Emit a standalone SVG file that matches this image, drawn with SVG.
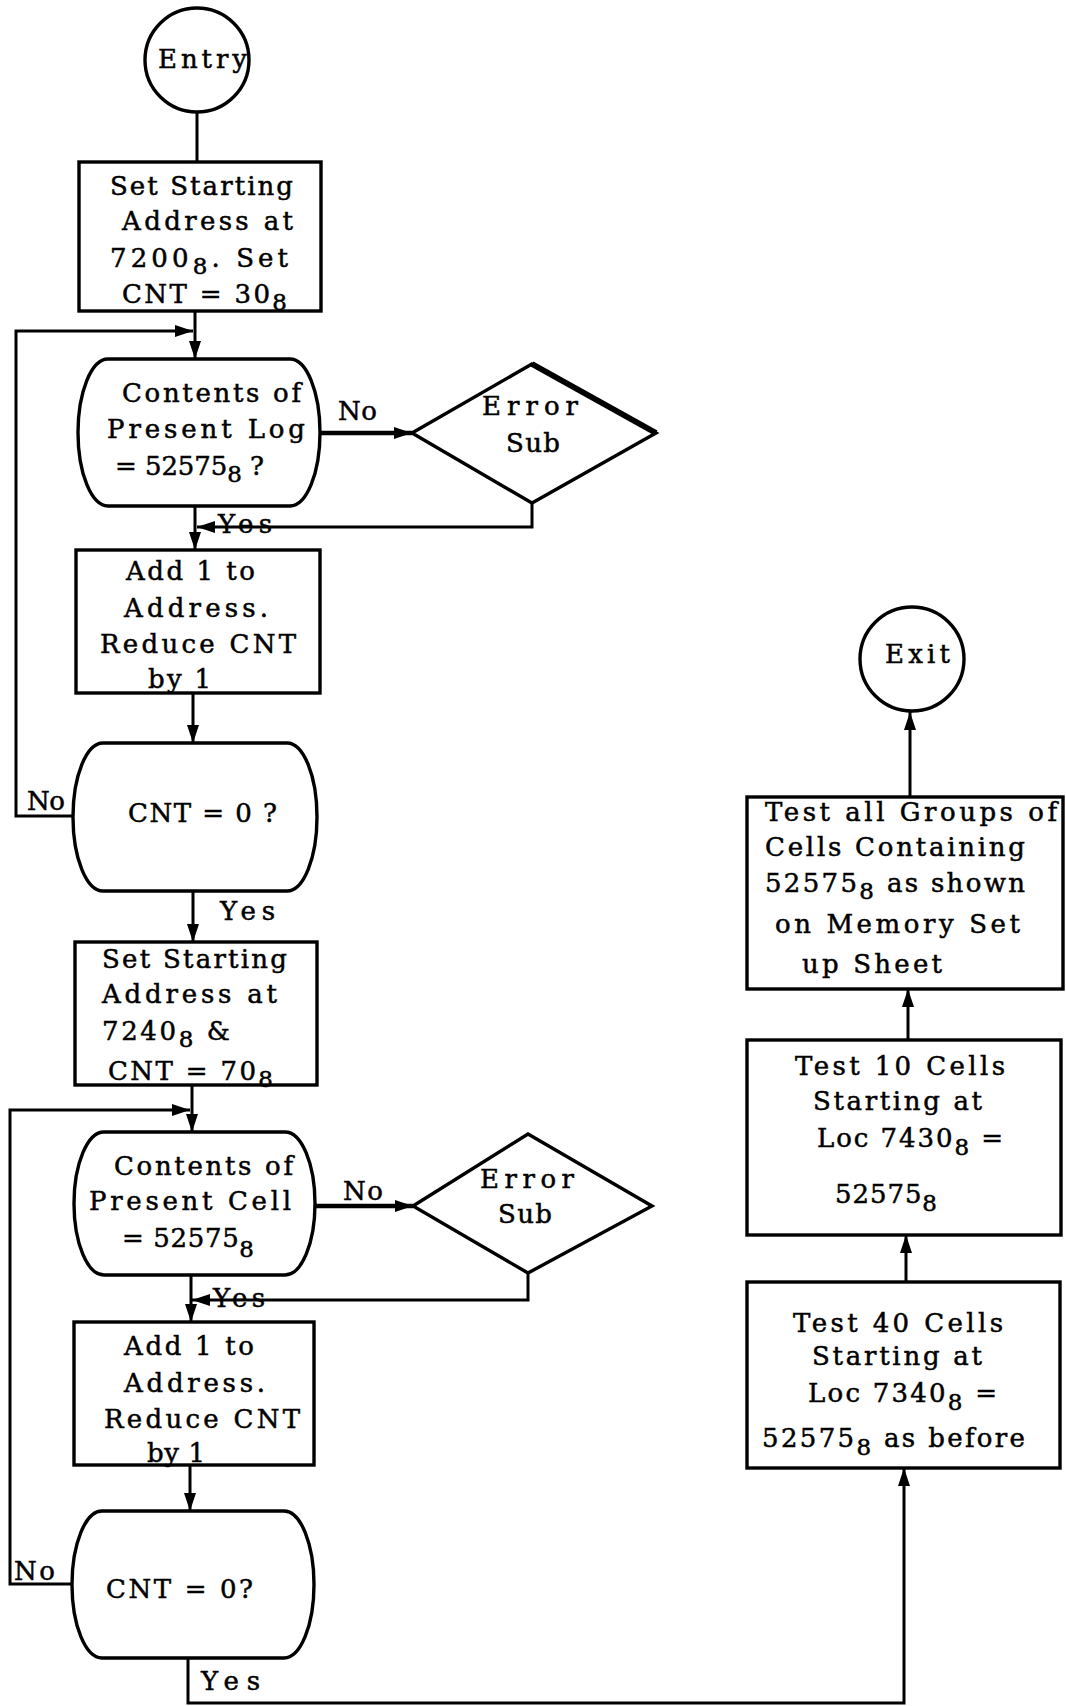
<svg xmlns="http://www.w3.org/2000/svg" width="1066" height="1706" viewBox="0 0 1066 1706">
<style>
.t{font-family:"DejaVu Serif","Liberation Serif",serif;font-size:26px;fill:#000;stroke:#000;stroke-width:0.5}
.sub{font-size:23px}
.shape{fill:none;stroke:#000;stroke-width:3.4}
.c{fill:none;stroke:#000;stroke-width:3}
.thick{stroke-width:4.5}
</style>
<defs>
<marker id="ah" markerUnits="userSpaceOnUse" markerWidth="19" markerHeight="12" refX="18" refY="6" orient="auto" viewBox="0 0 19 12">
<path d="M0,0 L18,6 L0,12 Z" fill="#000"/>
</marker>
</defs>
<rect width="1066" height="1706" fill="#fff"/>

<g id="connectors">
<line class="c" x1="197" y1="112" x2="197" y2="162"/>
<line class="c" x1="195" y1="311" x2="195" y2="359" marker-end="url(#ah)"/>
<polyline class="c" points="73,816 16,816 16,331 193,331" marker-end="url(#ah)"/>
<line class="c thick" x1="320" y1="433" x2="412" y2="433" marker-end="url(#ah)"/>
<polyline class="c" points="532,503 532,527 197,527" marker-end="url(#ah)"/>
<line class="c" x1="195" y1="506" x2="195" y2="550" marker-end="url(#ah)"/>
<line class="c" x1="193" y1="693" x2="193" y2="743" marker-end="url(#ah)"/>
<line class="c" x1="193" y1="891" x2="193" y2="942" marker-end="url(#ah)"/>
<line class="c" x1="192" y1="1085" x2="192" y2="1132" marker-end="url(#ah)"/>
<polyline class="c" points="72,1584 10,1584 10,1110 190,1110" marker-end="url(#ah)"/>
<line class="c thick" x1="315" y1="1206" x2="413" y2="1206" marker-end="url(#ah)"/>
<polyline class="c" points="528,1273 528,1300 192,1300" marker-end="url(#ah)"/>
<line class="c" x1="191" y1="1275" x2="191" y2="1322" marker-end="url(#ah)"/>
<line class="c" x1="190" y1="1465" x2="190" y2="1511" marker-end="url(#ah)"/>
<polyline class="c" points="188,1658 188,1703 904,1703 904,1468" marker-end="url(#ah)"/>
<line class="c" x1="906" y1="1282" x2="906" y2="1235" marker-end="url(#ah)"/>
<line class="c" x1="908" y1="1040" x2="908" y2="989" marker-end="url(#ah)"/>
<line class="c" x1="910" y1="797" x2="910" y2="712" marker-end="url(#ah)"/>
</g>

<g id="labels">
<text class="t" x="338" y="420" textLength="39">No</text>
<text class="t" x="218" y="533" textLength="54">Yes</text>
<text class="t" x="27" y="810" textLength="38">No</text>
<text class="t" x="220" y="920" textLength="55">Yes</text>
<text class="t" x="343" y="1200" textLength="40">No</text>
<text class="t" x="213" y="1307" textLength="52">Yes</text>
<text class="t" x="14" y="1580" textLength="41">No</text>
<text class="t" x="201" y="1690" textLength="59">Yes</text>
</g>

<g id="entry">
<circle class="shape" cx="197" cy="60" r="52"/>
<text class="t" x="158" y="68" textLength="89">Entry</text>
</g>

<g id="set-start-1">
<rect class="shape" x="79" y="162" width="242" height="149"/>
<text class="t" x="110" y="195" textLength="183">Set Starting</text>
<text class="t" x="122" y="230" textLength="171">Address at</text>
<text class="t" x="110" y="267" textLength="178">7200<tspan class="sub" dy="7">8</tspan><tspan dy="-7">.  Set</tspan></text>
<text class="t" x="122" y="303" textLength="165">CNT = 30<tspan class="sub" dy="7">8</tspan></text>
</g>

<g id="test-log">
<path class="shape" d="M108,359 H290 A30,73.5 0 0 1 290,506 H108 A30,73.5 0 0 1 108,359 Z"/>
<text class="t" x="122" y="402" textLength="179">Contents of</text>
<text class="t" x="107" y="438" textLength="198">Present Log</text>
<text class="t" x="115" y="475" textLength="149">= 52575<tspan class="sub" dy="7">8</tspan><tspan dy="-7"> ?</tspan></text>
</g>

<g id="error-sub-1">
<polygon class="shape" points="412,433 532,364 656,433 532,503"/>
<line x1="532" y1="364" x2="656" y2="433" stroke="#000" stroke-width="6"/>
<text class="t" x="482" y="415" textLength="96">Error</text>
<text class="t" x="506" y="452" textLength="54">Sub</text>
</g>

<g id="add-1">
<rect class="shape" x="76" y="550" width="244" height="143"/>
<text class="t" x="126" y="580" textLength="129">Add 1 to</text>
<text class="t" x="124" y="617" textLength="144">Address.</text>
<text class="t" x="100" y="653" textLength="196">Reduce CNT</text>
<text class="t" x="148" y="688" textLength="63">by 1</text>
</g>

<g id="cnt-zero-1">
<path class="shape" d="M103,743 H287 A30,74 0 0 1 287,891 H103 A30,74 0 0 1 103,743 Z"/>
<text class="t" x="128" y="822" textLength="149">CNT = 0 ?</text>
</g>

<g id="set-start-2">
<rect class="shape" x="75" y="942" width="242" height="143"/>
<text class="t" x="102" y="968" textLength="185">Set Starting</text>
<text class="t" x="102" y="1003" textLength="175">Address at</text>
<text class="t" x="102" y="1040" textLength="128">7240<tspan class="sub" dy="7">8</tspan><tspan dy="-7"> &amp;</tspan></text>
<text class="t" x="108" y="1080" textLength="165">CNT = 70<tspan class="sub" dy="7">8</tspan></text>
</g>

<g id="test-cell">
<path class="shape" d="M104,1132 H285 A30,71.5 0 0 1 285,1275 H104 A30,71.5 0 0 1 104,1132 Z"/>
<text class="t" x="114" y="1175" textLength="179">Contents of</text>
<text class="t" x="89" y="1210" textLength="202">Present Cell</text>
<text class="t" x="122" y="1247" textLength="132">= 52575<tspan class="sub" dy="10">8</tspan></text>
</g>

<g id="error-sub-2">
<polygon class="shape" points="413,1206 528,1134 652,1206 528,1273"/>
<text class="t" x="480" y="1188" textLength="94">Error</text>
<text class="t" x="498" y="1223" textLength="54">Sub</text>
</g>

<g id="add-2">
<rect class="shape" x="74" y="1322" width="240" height="143"/>
<text class="t" x="124" y="1355" textLength="130">Add 1 to</text>
<text class="t" x="124" y="1392" textLength="141">Address.</text>
<text class="t" x="104" y="1428" textLength="196">Reduce CNT</text>
<text class="t" x="147" y="1462" textLength="58">by 1</text>
</g>

<g id="cnt-zero-2">
<path class="shape" d="M102,1511 H284 A30,73.5 0 0 1 284,1658 H102 A30,73.5 0 0 1 102,1511 Z"/>
<text class="t" x="106" y="1598" textLength="147">CNT = 0?</text>
</g>

<g id="test-40">
<rect class="shape" x="747" y="1282" width="313" height="186"/>
<text class="t" x="793" y="1332" textLength="210">Test 40 Cells</text>
<text class="t" x="812" y="1365" textLength="170">Starting at</text>
<text class="t" x="808" y="1402" textLength="189">Loc 7340<tspan class="sub" dy="8">8</tspan><tspan dy="-8"> =</tspan></text>
<text class="t" x="762" y="1447" textLength="263">52575<tspan class="sub" dy="8">8</tspan><tspan dy="-8"> as before</tspan></text>
</g>

<g id="test-10">
<rect class="shape" x="747" y="1040" width="314" height="195"/>
<text class="t" x="795" y="1075" textLength="210">Test 10 Cells</text>
<text class="t" x="813" y="1110" textLength="169">Starting at</text>
<text class="t" x="817" y="1147" textLength="186">Loc 7430<tspan class="sub" dy="8">8</tspan><tspan dy="-8"> =</tspan></text>
<text class="t" x="835" y="1203" textLength="102">52575<tspan class="sub" dy="8">8</tspan></text>
</g>

<g id="test-all">
<rect class="shape" x="747" y="797" width="316" height="192"/>
<text class="t" x="765" y="821" textLength="292">Test all Groups of</text>
<text class="t" x="765" y="856" textLength="260">Cells Containing</text>
<text class="t" x="765" y="892" textLength="260">52575<tspan class="sub" dy="7">8</tspan><tspan dy="-7"> as shown</tspan></text>
<text class="t" x="775" y="933" textLength="245">on Memory Set</text>
<text class="t" x="802" y="973" textLength="140">up Sheet</text>
</g>

<g id="exit">
<circle class="shape" cx="912" cy="659" r="52"/>
<text class="t" x="885" y="663" textLength="65">Exit</text>
</g>
</svg>
